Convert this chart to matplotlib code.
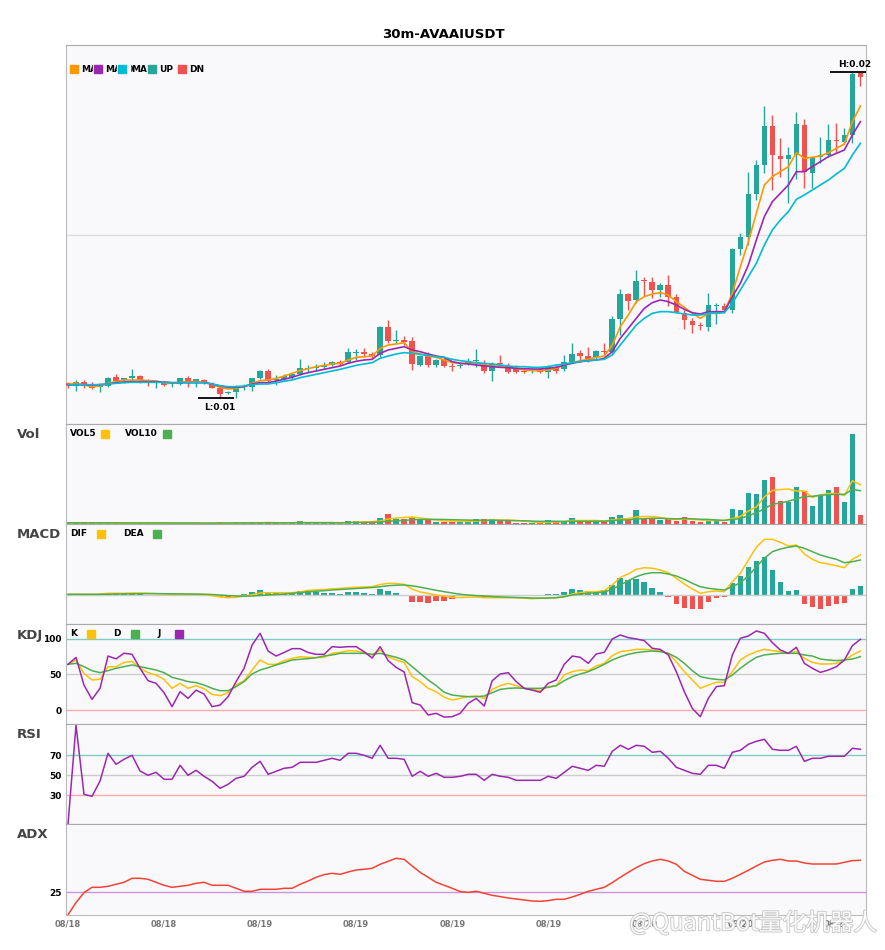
import numpy as np
import matplotlib
matplotlib.use("Agg")
import matplotlib.pyplot as plt
from matplotlib.patches import Rectangle
import matplotlib.patheffects as pe

# ---- 30m candles, AVAAIUSDT (prices in 1e-5 USDT) ----
open_ = [1057, 1048, 1060, 1048, 1044, 1047, 1075, 1065, 1070, 1077,
         1065, 1059, 1058, 1049, 1052, 1070, 1060, 1065, 1053, 1041,
         1025, 1030, 1043, 1045, 1070, 1092, 1065, 1067, 1075, 1083,
         1099, 1101, 1103, 1110, 1120, 1120, 1147, 1148, 1143, 1140,
         1223, 1182, 1185, 1182, 1110, 1137, 1110, 1127, 1107, 1107,
         1113, 1121, 1117, 1093, 1117, 1105, 1102, 1091, 1091, 1097,
         1090, 1102, 1097, 1120, 1145, 1137, 1133, 1152, 1150, 1248,
         1323, 1305, 1364, 1359, 1335, 1350, 1315, 1265, 1243, 1230,
         1225, 1288, 1287, 1275, 1457, 1493, 1623, 1710, 1827, 1737,
         1727, 1740, 1830, 1687, 1733, 1740, 1785, 1780, 1800, 1985]
high = [1059, 1065, 1065, 1059, 1057, 1073, 1083, 1072, 1099, 1079,
        1067, 1065, 1060, 1055, 1072, 1077, 1069, 1067, 1060, 1050,
        1032, 1050, 1052, 1072, 1095, 1097, 1080, 1083, 1087, 1127,
        1110, 1113, 1120, 1123, 1125, 1160, 1157, 1160, 1150, 1227,
        1245, 1215, 1197, 1195, 1140, 1150, 1127, 1135, 1115, 1120,
        1130, 1157, 1125, 1120, 1140, 1115, 1110, 1097, 1100, 1103,
        1110, 1110, 1140, 1177, 1155, 1165, 1155, 1177, 1257, 1337,
        1327, 1395, 1375, 1373, 1355, 1380, 1323, 1275, 1252, 1240,
        1325, 1295, 1295, 1460, 1505, 1690, 1725, 1887, 1860, 1790,
        1765, 1870, 1847, 1737, 1795, 1833, 1837, 1820, 1990, 1988]
low = [1042, 1033, 1040, 1039, 1028, 1045, 1059, 1055, 1065, 1055,
       1047, 1042, 1047, 1045, 1050, 1045, 1045, 1052, 1040, 1010,
       1022, 1012, 1035, 1033, 1067, 1060, 1050, 1063, 1067, 1080,
       1090, 1093, 1097, 1107, 1110, 1115, 1125, 1133, 1130, 1133,
       1177, 1175, 1170, 1095, 1107, 1105, 1105, 1103, 1092, 1100,
       1110, 1105, 1087, 1063, 1105, 1087, 1087, 1085, 1087, 1087,
       1070, 1087, 1093, 1115, 1120, 1120, 1127, 1140, 1145, 1200,
       1275, 1297, 1317, 1310, 1315, 1287, 1265, 1217, 1205, 1215,
       1213, 1233, 1265, 1267, 1440, 1470, 1605, 1685, 1635, 1673,
       1597, 1667, 1640, 1640, 1715, 1735, 1747, 1775, 1777, 1947]
close = [1048, 1060, 1048, 1042, 1049, 1071, 1062, 1070, 1077, 1064,
         1062, 1061, 1051, 1051, 1070, 1060, 1067, 1055, 1041, 1023,
         1029, 1045, 1046, 1070, 1092, 1062, 1068, 1077, 1083, 1100,
         1101, 1104, 1110, 1120, 1113, 1150, 1149, 1143, 1137, 1225,
         1183, 1185, 1180, 1112, 1137, 1110, 1125, 1107, 1103, 1110,
         1123, 1124, 1093, 1113, 1113, 1090, 1090, 1089, 1093, 1090,
         1105, 1093, 1120, 1143, 1137, 1127, 1152, 1148, 1248, 1323,
         1302, 1362, 1361, 1335, 1350, 1315, 1270, 1245, 1230, 1228,
         1290, 1291, 1275, 1457, 1493, 1623, 1710, 1827, 1740, 1727,
         1740, 1833, 1690, 1735, 1740, 1785, 1781, 1800, 1983, 1975]
ma5 = [1052, 1055, 1050, 1045, 1047, 1055, 1060, 1065, 1065, 1065,
       1063, 1062, 1057, 1055, 1058, 1060, 1060, 1058, 1053, 1043,
       1038, 1040, 1045, 1055, 1063, 1065, 1070, 1077, 1085, 1093,
       1099, 1105, 1109, 1113, 1115, 1125, 1133, 1135, 1137, 1160,
       1170, 1173, 1177, 1150, 1143, 1137, 1133, 1125, 1117, 1115,
       1115, 1115, 1110, 1107, 1107, 1105, 1100, 1095, 1093, 1093,
       1095, 1100, 1110, 1117, 1123, 1127, 1133, 1137, 1170, 1225,
       1260, 1300, 1315, 1323, 1327, 1320, 1300, 1283, 1265, 1250,
       1265, 1267, 1270, 1325, 1405, 1480, 1565, 1650, 1675, 1690,
       1705, 1747, 1730, 1733, 1737, 1747, 1760, 1773, 1840, 1887]
ma10 = [1050, 1051, 1051, 1050, 1051, 1053, 1057, 1059, 1060, 1060,
        1060, 1060, 1059, 1057, 1057, 1057, 1057, 1057, 1053, 1047,
        1043, 1043, 1045, 1053, 1057, 1057, 1062, 1067, 1073, 1081,
        1087, 1092, 1097, 1102, 1107, 1115, 1121, 1125, 1127, 1145,
        1155, 1160, 1165, 1155, 1150, 1143, 1137, 1133, 1120, 1115,
        1113, 1110, 1107, 1105, 1103, 1102, 1100, 1099, 1098, 1098,
        1100, 1103, 1110, 1115, 1120, 1123, 1125, 1130, 1150, 1190,
        1220, 1250, 1280, 1297, 1305, 1300, 1290, 1277, 1267, 1263,
        1270, 1270, 1270, 1315, 1355, 1410, 1485, 1555, 1600, 1625,
        1650, 1690, 1690, 1705, 1720, 1735, 1745, 1755, 1800, 1840]
ma20 = [1050, 1051, 1051, 1051, 1051, 1053, 1055, 1057, 1058, 1058,
        1058, 1058, 1058, 1057, 1057, 1057, 1057, 1057, 1053, 1048,
        1045, 1045, 1047, 1051, 1053, 1053, 1057, 1061, 1065, 1072,
        1077, 1082, 1087, 1092, 1097, 1103, 1109, 1113, 1117, 1130,
        1137, 1143, 1147, 1145, 1142, 1139, 1135, 1133, 1127, 1123,
        1120, 1117, 1115, 1113, 1110, 1107, 1105, 1105, 1103, 1103,
        1105, 1110, 1113, 1117, 1120, 1123, 1125, 1127, 1140, 1170,
        1200, 1230, 1250, 1265, 1270, 1270, 1267, 1263, 1260, 1260,
        1265, 1265, 1267, 1295, 1335, 1375, 1415, 1470, 1515, 1545,
        1570, 1607, 1620, 1635, 1650, 1665, 1683, 1700, 1740, 1775]

# volume (K)
volume = [20, 46, 20, 14, 14, 20, 20, 20, 20, 20, 14, 14, 14, 10, 14, 26, 10, 8, 14, 46,
          14, 40, 14, 20, 20, 46, 14, 14, 20, 66, 20, 20, 20, 20, 14, 66, 66, 46, 46, 126,
          206, 100, 100, 114, 86, 74, 40, 46, 46, 34, 34, 106, 106, 106, 54, 54, 26, 26, 26, 20,
          86, 34, 66, 126, 34, 34, 66, 34, 146, 186, 74, 274, 120, 106, 74, 120, 54, 146, 54, 34,
          100, 86, 40, 306, 286, 626, 606, 886, 946, 466, 434, 746, 666, 366, 566, 686, 746, 446, 1806, 186]
vol5 = [24, 26, 26, 24, 22, 22, 22, 18, 18, 20, 18, 18, 16, 14, 14, 16, 16, 14, 14, 20,
        18, 24, 24, 26, 26, 28, 26, 22, 24, 32, 28, 28, 28, 30, 20, 28, 38, 42, 48, 60,
        100, 120, 130, 140, 120, 100, 80, 60, 60, 50, 50, 60, 70, 80, 80, 80, 70, 60, 40, 30,
        40, 40, 50, 70, 70, 70, 70, 60, 80, 100, 110, 140, 150, 150, 130, 100, 90, 100, 90, 80,
        70, 70, 70, 110, 150, 260, 340, 540, 670, 690, 700, 660, 660, 530, 580, 610, 610, 570, 866, 786]
vol10 = [24, 24, 24, 24, 24, 24, 24, 22, 22, 22, 22, 22, 22, 20, 20, 20, 20, 18, 18, 20,
         20, 22, 22, 22, 22, 24, 24, 24, 24, 26, 26, 26, 26, 26, 24, 28, 30, 32, 34, 40,
         56, 64, 72, 84, 90, 92, 92, 90, 86, 82, 78, 76, 74, 76, 72, 70, 66, 64, 58, 52,
         56, 54, 52, 54, 54, 54, 56, 56, 66, 82, 82, 100, 106, 114, 114, 108, 102, 110, 104, 94,
         92, 80, 72, 92, 106, 166, 222, 306, 394, 420, 456, 502, 548, 554, 576, 582, 596, 592, 692, 666]

# MACD (1e-6)
dif = [0.7, 0.7, 0.7, 0.5, 1.0, 1.7, 1.7, 1.7, 2.0, 2.0, 1.7, 1.3, 1.0, 0.7, 0.7, 0.7, 0.7, 0.3, -0.7, -2.0,
       -2.7, -2.3, -1.0, 0.3, 2.0, 2.3, 2.3, 2.3, 2.3, 3.0, 4.7, 5.0, 5.3, 6.3, 6.5, 7.3, 7.7, 8.0, 8.3, 10.5,
       11.7, 11.5, 10.7, 6.0, 3.0, 1.5, 0.0, -1.0, -2.3, -2.5, -2.2, -2.0, -2.7, -2.7, -2.7, -2.7, -2.8, -3.2, -3.7, -3.3,
       -3.0, -2.7, -1.7, 1.0, 2.3, 3.3, 3.3, 4.3, 10.0, 17.7, 21.0, 25.7, 27.3, 26.7, 25.0, 22.3, 16.7, 11.0, 6.0, 1.7,
       3.3, 4.0, 3.3, 13.3, 21.7, 35.0, 47.7, 55.7, 55.7, 52.7, 49.0, 50.0, 41.0, 35.7, 32.3, 31.0, 29.3, 27.3, 35.7, 40.0]
dea = [0.7, 0.7, 0.7, 0.7, 0.7, 0.8, 1.0, 1.1, 1.2, 1.3, 1.4, 1.4, 1.3, 1.2, 1.1, 1.0, 0.9, 0.8, 0.5, 0.0,
       -0.6, -1.0, -1.2, -1.0, -0.5, 0.0, 0.5, 1.0, 1.7, 2.4, 3.2, 3.8, 4.3, 5.0, 5.5, 6.0, 6.5, 7.0, 7.5, 8.3,
       9.3, 9.8, 10.0, 9.2, 7.8, 6.3, 4.7, 3.3, 2.0, 0.7, 0.0, -0.6, -1.0, -1.5, -1.9, -2.2, -2.5, -2.7, -3.0, -3.2,
       -3.0, -2.7, -1.7, 0.0, 1.0, 1.7, 2.3, 3.0, 5.7, 10.0, 14.3, 18.3, 21.0, 22.3, 22.3, 21.0, 19.0, 15.7, 11.7, 8.3,
       6.7, 5.7, 5.0, 8.3, 12.3, 19.0, 28.3, 36.7, 43.3, 46.0, 47.7, 49.0, 46.7, 43.3, 40.0, 37.7, 35.7, 32.3, 33.3, 35.0]
macd_hist = [0, 0, 0, 0, 0.3, 1.7, 0.7, 0.7, 1.7, 1.3, 0.3, 0, -0.3, -0.5, -0.3, -0.3, -0.3, -0.5, -1.2, -2.0,
             -2.3, -1.0, 1.0, 3.0, 5.0, 3.0, 2.0, 1.3, 2.3, 4.0, 4.0, 3.0, 2.0, 2.0, 1.3, 3.0, 3.0, 2.0, 1.3, 6.0,
             4.0, 2.0, 0.3, -6.7, -6.7, -8.0, -5.7, -5.7, -4.3, -1.0, -1.3, -0.3, -1.7, -0.5, -0.5, -1.0, -0.7, -0.7, -0.5, -0.5,
             1.0, 1.0, 3.0, 6.0, 5.0, 4.0, 4.0, 4.7, 10.0, 17.3, 14.7, 16.0, 13.0, 7.0, 3.0, -2.3, -9.3, -13.3, -14.3, -13.7,
             -6.7, -2.7, -2.3, 11.7, 19.0, 28.3, 34.0, 38.3, 25.0, 13.0, 4.0, 5.0, -9.3, -12.3, -13.7, -10.7, -9.3, -7.7, 6.0, 9.0]

kdj_k = [64.3, 70.4, 51.6, 42.3, 43.2, 61, 61, 67, 68.5, 58.7, 52.6, 49.3, 43.2, 30.5, 37.6, 30.5, 34.3, 30, 22, 20.2,
         24.4, 35.2, 41.3, 56.3, 70.4, 64.3, 64.3, 69.5, 72.8, 75, 74.2, 73.7, 74.2, 79.8, 81.2, 83.6, 83, 80.8, 77.5, 84.5,
         75, 70.4, 67, 47, 40, 30.5, 25.8, 18, 14.1, 16.4, 18.8, 19.7, 16.4, 29, 34.3, 37.6, 34.3, 30.5, 29, 27.2,
         32.9, 34.3, 49.3, 54, 56.3, 55.4, 62, 65.7, 76.5, 82.2, 83.6, 85.4, 85.4, 84.5, 83.6, 79.8, 68, 54, 42.3, 30.5,
         35.2, 39, 39, 54, 70.4, 77.5, 82.2, 85.4, 83.6, 82.2, 79.8, 82.2, 72.8, 67, 64.8, 64.8, 65.7, 69.5, 77.5, 83]
kdj_d = [64.3, 65.7, 61, 55.4, 52.6, 55.4, 58.7, 61, 63.4, 61, 58.7, 56.3, 52.6, 46, 43.2, 40, 38.5, 35.2, 30.5, 27.2,
         27.2, 32.9, 40, 50.7, 56.3, 59.6, 63.4, 66.7, 70.4, 71.4, 72.3, 73.7, 76, 77.5, 79.8, 79.8, 79.8, 79.8, 78.4, 79.8,
         77, 74.2, 70.4, 61, 51.6, 42.3, 34.3, 25, 21.1, 19.7, 18.8, 18.8, 19.7, 24.4, 29, 30.5, 31, 30.5, 30.5, 30.5,
         31.9, 34.3, 41.3, 47, 50.7, 54, 58.7, 64.3, 70.4, 75, 78.4, 80.8, 82.2, 83, 82.2, 79.8, 74.2, 65.7, 55.4, 47,
         44.6, 43.2, 42.3, 49.3, 58.7, 67, 74.2, 77.5, 78.9, 79.8, 79.8, 79.8, 77.5, 76, 71.8, 70.4, 69.5, 70.4, 71.8, 75.1]
kdj_j = [64.3, 74, 35, 15, 30.5, 76, 72, 80, 78.4, 58.7, 41.3, 37.6, 24.4, 4.7, 25.8, 16.4, 28, 22.5, 4.7, 7,
         18.8, 40, 58.7, 91.5, 108, 83, 76, 81, 86.4, 86.4, 81, 78.4, 78.4, 89.2, 88.3, 89.2, 89.2, 82, 73.2, 89.2,
         69.5, 60, 53.5, 10.3, 7, -7, -4.7, -10, -9.4, -4.7, 9.4, 16.4, 5.6, 41.3, 50.7, 52.6, 40, 30.5, 28, 24.9,
         37.6, 42.3, 64.3, 76, 74.2, 65.7, 78.9, 81.2, 100, 105.6, 101.9, 100, 97.7, 86.9, 85.4, 77.5, 54, 25.8, 2.3, -9.4,
         16.4, 32.9, 34.3, 77.5, 101, 104.2, 111.3, 108, 94.8, 84.5, 79.8, 88.3, 65.7, 58.7, 53, 56.3, 61, 70.4, 90.6, 99.5]

rsi = [1, 100, 31, 29, 44.3, 72, 61, 66, 70, 54.3, 50, 53, 46, 46, 60, 50, 55, 49, 44, 37,
       41, 47, 49, 58, 64, 51, 54, 57, 58, 63, 63, 63, 65, 67, 65, 72, 72, 70, 67, 80,
       67, 67, 66, 49, 54, 49, 52, 48, 48, 49, 51, 51, 45, 51, 49, 48, 45, 45, 45, 45,
       49, 47, 53, 59, 57, 55, 60, 59, 74, 80, 76, 80, 79, 73, 74, 67, 58, 55, 52, 51,
       60, 60, 57, 73, 75, 81, 84, 86, 76, 75, 75, 79, 64, 67, 67, 69, 69, 69, 77, 76]
adx = [2.5, 14.7, 24.7, 30, 30, 31, 33, 35, 39, 39, 38, 35, 32, 30, 31, 32, 34, 35, 32, 32,
       32, 29, 26, 26, 28, 28, 28, 29, 29, 33, 36.3, 40, 42.7, 44, 43, 45.3, 47.3, 48, 49, 53,
       56, 59, 58, 51.3, 45, 40, 35, 32, 29, 25.7, 25, 26, 24, 22, 20.7, 19.3, 18.3, 17.3, 16.3, 16,
       16.7, 18, 18, 20.3, 23, 26, 28, 30, 34.7, 40, 45, 49.7, 53.7, 56.3, 58, 56.3, 53, 46, 42, 38,
       37, 36, 36, 39, 43, 47, 51.3, 55.3, 57, 58, 56.3, 56.3, 54.3, 53.3, 53.3, 53.3, 53.3, 55, 56.7, 57]

tick_pos = [0, 12, 24, 36, 48, 60, 72, 84, 96]
tick_labels = ['08/18', '08/18', '08/19', '08/19', '08/19', '08/19', '08/20', '08/20', '08/21']

# ---- style ----
UP, DN = '#26A69A', '#EF5350'
ORANGE, PURPLE, CYAN = '#FF9800', '#9C27B0', '#00BCD4'
YELLOW, GREEN = '#FFC107', '#4CAF50'
BG = '#F9F9FB'
W, H = 885, 950

fig = plt.figure(figsize=(W / 100, H / 100), dpi=100)


def panel(top, bottom):
    ax = fig.add_axes([66 / W, 1 - bottom / H, 800 / W, (bottom - top) / H])
    ax.set_facecolor(BG)
    for s in ax.spines.values():
        s.set_color('#BBBBBB')
    ax.spines['top'].set_color('#AAAAAA')
    ax.set_xlim(-0.25, 99.7)
    ax.set_xticks([])
    ax.tick_params(length=0, labelsize=6.5, pad=3)
    return ax


def bold_ticks(ax, ticks):
    ax.set_yticks(ticks)
    ax.set_yticklabels([str(t) for t in ticks], fontweight='bold')


def fpos(x, y):
    return x / W, 1 - y / H


def square(x, y, color):
    fig.patches.append(Rectangle(fpos(x, y + 4), 8 / W, 8 / H, transform=fig.transFigure,
                                 color=color, zorder=6))


def label(x, y, s):
    fig.text(*fpos(x, y), s, ha='left', va='center', fontsize=6.5, fontweight='bold', zorder=4)


o = np.array(open_) * 1e-5
h = np.array(high) * 1e-5
l = np.array(low) * 1e-5
c = np.array(close) * 1e-5
x = np.arange(len(c))
col = np.where(c >= o, UP, DN)

# ---- price ----
ax = panel(45, 424)
ax.vlines(x, l, h, colors=col, lw=1, zorder=2)
ax.bar(x, np.maximum(np.abs(c - o), 2e-5), bottom=np.minimum(o, c), width=0.7,
       color=col, lw=0, zorder=3)
ax.plot(x, np.array(ma5) * 1e-5, color=ORANGE, lw=1.2, zorder=4)
ax.plot(x, np.array(ma10) * 1e-5, color=PURPLE, lw=1.2, zorder=4)
ax.plot(x, np.array(ma20) * 1e-5, color=CYAN, lw=1.2, zorder=4)
ax.set_ylim(0.00933, 0.0207)
ax.set_yticks([0.015])
ax.set_yticklabels([])
ax.grid(axis='y', color='#DDDDDD', lw=1)
ax.set_axisbelow(True)

lo_i, hi_i = int(np.argmin(l)), int(np.argmax(h))
ax.hlines(l[lo_i], lo_i - 2.75, lo_i + 1.75, color='black', lw=1.3, zorder=5)
ax.annotate(f'L:{l[lo_i]:.2f}', (lo_i, l[lo_i]), xytext=(0, -9), textcoords='offset pixels',
            ha='center', va='center', fontsize=6.5, fontweight='bold')
ax.hlines(h[hi_i], hi_i - 2.75, hi_i + 1.75, color='black', lw=1.3, zorder=5, clip_on=False)
ax.annotate(f'H:{h[hi_i]:.2f}', (hi_i, h[hi_i]), xytext=(2, 7), textcoords='offset pixels',
            ha='center', va='center', fontsize=6.5, fontweight='bold')

fig.text(443 / W, 1 - 34 / H, '30m-AVAAIUSDT', ha='center', va='center',
         fontsize=9.5, fontweight='bold')

# price legend: handle then text, next handle drawn over the text
items = [(70, 81, ORANGE, 'MA5'), (94, 105, PURPLE, 'MA10'), (118, 131, CYAN, 'MA20'),
         (148, 159, UP, 'UP'), (178, 189, DN, 'DN')]
for k, (sx, tx, colr, s) in enumerate(items):
    label(tx, 69, s)
    square(sx, 69, colr)
    if k > 0:
        fig.patches.append(Rectangle(fpos(sx - 1, 76), (tx - sx) / W, 14 / H,
                                     transform=fig.transFigure, color=BG, zorder=5))

# ---- volume ----
av = panel(424, 524)
av.bar(x, volume, width=0.7, color=col, lw=0)
av.plot(x, vol5, color=YELLOW, lw=1.1)
av.plot(x, vol10, color=GREEN, lw=1.1)
av.set_ylim(0, 2000)
av.set_yticks([])
label(70, 434, 'VOL5'); square(101, 434, YELLOW)
label(125, 434, 'VOL10'); square(163, 434, GREEN)

# ---- MACD ----
am = panel(524, 624)
hcol = np.where(np.array(macd_hist) >= 0, UP, DN)
am.axhline(0, color='#CCCCCC', lw=1)
am.bar(x, macd_hist, width=0.7, color=hcol, lw=0)
am.plot(x, dif, color=YELLOW, lw=1.1)
am.plot(x, dea, color=GREEN, lw=1.1)
am.set_ylim(-29, 71)
am.set_yticks([])
label(70, 534, 'DIF'); square(97, 534, YELLOW)
label(123, 534, 'DEA'); square(153, 534, GREEN)

# ---- KDJ ----
ak = panel(624, 724)
ak.axhline(100, color='#80CBC4', lw=1)
ak.axhline(50, color='#CCCCCC', lw=1)
ak.axhline(0, color='#FFAAAA', lw=1)
ak.plot(x, kdj_k, color=YELLOW, lw=1.1)
ak.plot(x, kdj_d, color=GREEN, lw=1.1)
ak.plot(x, kdj_j, color=PURPLE, lw=1.1)
ak.set_ylim(-19.7, 121.1)
bold_ticks(ak, [0, 50, 100])
label(70, 634, 'K'); square(87, 634, YELLOW)
label(113, 634, 'D'); square(131, 634, GREEN)
label(157, 634, 'J'); square(175, 634, PURPLE)

# ---- RSI ----
ar = panel(724, 824)
ar.axhline(70, color='#80CBC4', lw=1)
ar.axhline(50, color='#CCCCCC', lw=1)
ar.axhline(30, color='#FFAAAA', lw=1)
ar.plot(x, rsi, color=PURPLE, lw=1.1)
ar.set_ylim(1.3, 101.3)
bold_ticks(ar, [30, 50, 70])

# ---- ADX ----
aa = panel(824, 915)
aa.axhline(25, color='#CE93D8', lw=1)
aa.plot(x, adx, color='#F44336', lw=1.1)
aa.set_ylim(2.3, 93.3)
bold_ticks(aa, [25])
aa.set_xticks(tick_pos)
aa.set_xticklabels(tick_labels, fontsize=6, fontweight='bold', color='#777777')

for name, y in [('Vol', 435), ('MACD', 535), ('KDJ', 635), ('RSI', 735), ('ADX', 835)]:
    fig.text(17 / W, 1 - y / H, name, ha='left', va='center', fontsize=9.5,
             fontweight='bold', color='#444444')

# watermark over the bottom-right corner
fig.text(877 / W, 1 - 923 / H, '@QuantBot量化机器人', ha='right', va='center',
         fontsize=17, color='white', alpha=0.9, zorder=10, fontweight='light',
         family=['Noto Sans CJK SC', 'DejaVu Sans'],
         path_effects=[pe.withStroke(linewidth=1.3, foreground='#C4C4C4')])

fig.savefig('out.png', dpi=100)
